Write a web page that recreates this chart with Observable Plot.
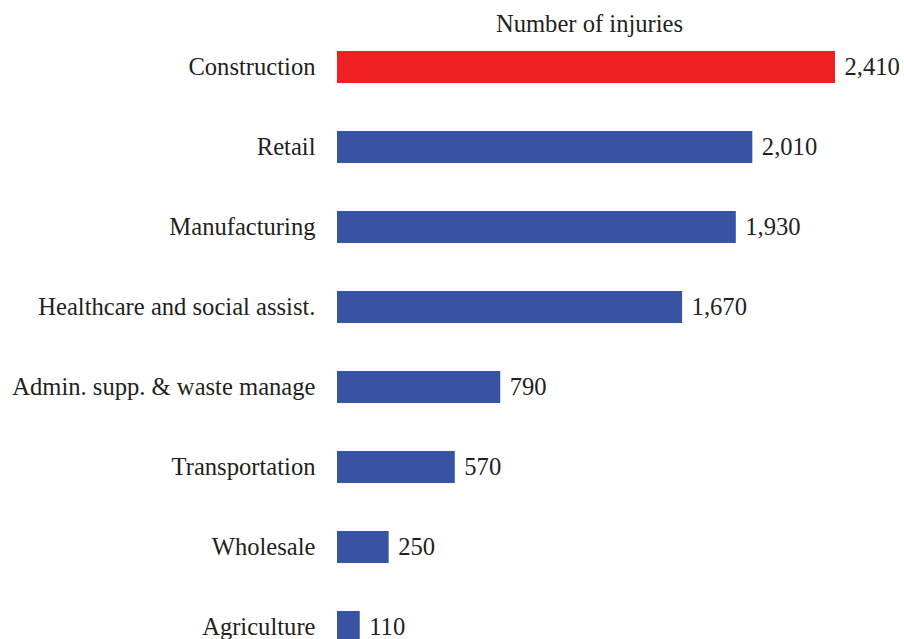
<!DOCTYPE html>
<html>
<head>
<meta charset="utf-8">
<script src="https://cdn.jsdelivr.net/npm/d3@7"></script>
<script src="https://cdn.jsdelivr.net/npm/@observablehq/plot@0.6"></script>
<style>
  html, body { margin: 0; padding: 0; background: #fff; overflow: hidden; }
</style>
</head>
<body>
<div id="chart"></div>
<script>
const categories = ["Construction", "Retail", "Manufacturing", "Healthcare and social assist.", "Admin. supp. & waste manage", "Transportation", "Wholesale", "Agriculture"];
const injuries = [2410, 2010, 1930, 1670, 790, 570, 250, 110];
const highlight = ["Construction"];
const title = "Number of injuries";

const data = categories.map((c, i) => ({category: c, value: injuries[i], hi: highlight.includes(c)}));
const fmt = d3.format(",");

const chart = Plot.plot({
  width: 904,
  height: 667,
  marginTop: 27,
  marginBottom: 0,
  marginLeft: 337,
  marginRight: 69,
  style: {fontFamily: "'Liberation Serif', 'Times New Roman', serif", fontSize: "24.6px", color: "#231f20", background: "#fff"},
  x: {domain: [0, 2410], axis: null},
  y: {domain: categories, paddingInner: 0.6, paddingOuter: 0.3, label: null, tickSize: 0, tickPadding: 22},
  marks: [
    Plot.barX(data, {y: "category", x: "value", fill: d => d.hi ? "#ee2024" : "#3953a4"}),
    Plot.text(data, {y: "category", x: "value", text: d => fmt(d.value), textAnchor: "start", dx: 9, fill: "#231f20", fontSize: 24.6}),
    Plot.text([title], {frameAnchor: "top", dy: -3, lineAnchor: "middle", dx: 3, fill: "#231f20", fontSize: 24.6}),
    Plot.axisY({tickSize: 0, tickPadding: 22, label: null, fontSize: 24.6, fill: "#231f20"})
  ]
});
document.getElementById("chart").appendChild(chart);
</script>
</body>
</html>
